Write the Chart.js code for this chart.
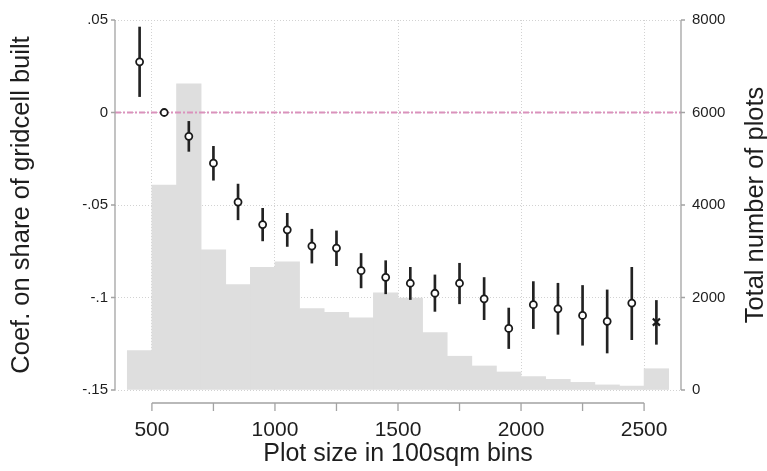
<!DOCTYPE html>
<html>
<head>
<meta charset="utf-8">
<script src="https://cdn.jsdelivr.net/npm/chart.js@4.4.0/dist/chart.umd.min.js"></script>
<style>
  html, body { margin: 0; padding: 0; background: #ffffff; }
  #wrap { width: 767px; height: 471px; }
</style>
</head>
<body>
<div id="wrap"><canvas id="c" width="767" height="471"></canvas></div>
<script>
// ---- data ----
const binCenters = [450, 550, 650, 750, 850, 950, 1050, 1150, 1250, 1350, 1450,
                    1550, 1650, 1750, 1850, 1950, 2050, 2150, 2250, 2350, 2450, 2550];
const plotCounts = [850, 4430, 6620, 3030, 2280, 2650, 2770, 1760, 1680, 1560, 2100,
                    1990, 1240, 730, 520, 390, 290, 230, 165, 110, 85, 460];
const coefValues = [0.0274, 0, -0.0129, -0.0274, -0.0484, -0.0606, -0.0634, -0.0722, -0.0733, -0.0855, -0.0891,
                    -0.0923, -0.0977, -0.0923, -0.1007, -0.1167, -0.1039, -0.1061, -0.1097, -0.1129, -0.1030, -0.1133];
const ciLow  = [0.0086, null, -0.0210, -0.0366, -0.0580, -0.0694, -0.0724, -0.0814, -0.0828, -0.0948, -0.0980,
                -0.1011, -0.1075, -0.1034, -0.1120, -0.1276, -0.1168, -0.1199, -0.1258, -0.1300, -0.1228, -0.1253];
const ciHigh = [0.0462, null, -0.0048, -0.0183, -0.0387, -0.0518, -0.0545, -0.0631, -0.0640, -0.0762, -0.0801,
                -0.0837, -0.0878, -0.0815, -0.0892, -0.1057, -0.0914, -0.0923, -0.0935, -0.0959, -0.0837, -0.1016];
const refLineX = [350, 2650];
const refLineY = [0, 0];

const xTickValues = [500, 1000, 1500, 2000, 2500];
const xTickLabels = ['500', '1000', '1500', '2000', '2500'];
const xTickMarks  = [500, 750, 1000, 1250, 1500, 1750, 2000, 2250, 2500];
const yTickValues = [-0.15, -0.1, -0.05, 0, 0.05];
const yTickLabels = ['-.15', '-.1', '-.05', '0', '.05'];
const y2TickValues = [0, 2000, 4000, 6000, 8000];
const y2TickLabels = ['0', '2000', '4000', '6000', '8000'];

const xTitle  = 'Plot size in 100sqm bins';
const yTitle  = 'Coef. on share of gridcell built';
const y2Title = 'Total number of plots';

// ---- styling ----
const FONT = '"Liberation Sans", Arial, Helvetica, sans-serif';
const TEXT = '#1e1e1e';
const AXIS = '#a3a3a3';
const GRID = '#d2d2d2';

const histData = binCenters.map((x, i) => ({ x: x, y: plotCounts[i] }));
const coefData = binCenters.map((x, i) => ({ x: x, y: coefValues[i] }));
const ciData = [];
binCenters.forEach((x, i) => {
  if (ciLow[i] !== null && ciHigh[i] !== null) ciData.push({ x: x, y: [ciLow[i], ciHigh[i]] });
});
const refData = refLineX.map((x, i) => ({ x: x, y: refLineY[i] }));

const axesPlugin = {
  id: 'stataAxes',
  afterDraw(chart) {
    const { ctx, chartArea: a, scales } = chart;
    const x = scales.x, y = scales.y, y2 = scales.y2;
    ctx.save();
    ctx.setLineDash([]);
    ctx.strokeStyle = AXIS;
    ctx.lineWidth = 1.3;
    // left axis
    ctx.beginPath();
    ctx.moveTo(a.left, y.getPixelForValue(yTickValues[yTickValues.length - 1]));
    ctx.lineTo(a.left, y.getPixelForValue(yTickValues[0]));
    yTickValues.forEach(v => {
      const py = y.getPixelForValue(v);
      ctx.moveTo(a.left - 4, py); ctx.lineTo(a.left, py);
    });
    ctx.stroke();
    // right axis
    ctx.beginPath();
    ctx.moveTo(a.right, y2.getPixelForValue(y2TickValues[y2TickValues.length - 1]));
    ctx.lineTo(a.right, y2.getPixelForValue(y2TickValues[0]));
    y2TickValues.forEach(v => {
      const py = y2.getPixelForValue(v);
      ctx.moveTo(a.right, py); ctx.lineTo(a.right + 4, py);
    });
    ctx.stroke();
    // bottom axis (offset below the plot region)
    const ay = a.bottom + 13;
    ctx.beginPath();
    ctx.moveTo(x.getPixelForValue(xTickMarks[0]), ay);
    ctx.lineTo(x.getPixelForValue(xTickMarks[xTickMarks.length - 1]), ay);
    xTickMarks.forEach(v => {
      const px = x.getPixelForValue(v);
      ctx.moveTo(px, ay); ctx.lineTo(px, ay + 8);
    });
    ctx.stroke();
    // right axis title, reading bottom to top
    ctx.fillStyle = TEXT;
    ctx.font = '25.5px ' + FONT;
    ctx.textAlign = 'center';
    ctx.textBaseline = 'alphabetic';
    ctx.translate(763, (a.top + a.bottom) / 2);
    ctx.rotate(-Math.PI / 2);
    ctx.fillText(y2Title, 0, 0);
    ctx.restore();
  }
};

new Chart(document.getElementById('c'), {
  type: 'scatter',
  data: {
    datasets: [
      {
        type: 'scatter',
        label: 'coef',
        data: coefData,
        yAxisID: 'y',
        order: 1,
        pointStyle: ctx => (ctx.dataIndex === coefValues.length - 1 ? 'crossRot' : 'circle'),
        pointRadius: ctx => (ctx.dataIndex === coefValues.length - 1 ? 5 : 3.5),
        pointBorderWidth: ctx => (ctx.dataIndex === coefValues.length - 1 ? 2.2 : 1.8),
        pointBackgroundColor: '#ffffff',
        pointBorderColor: '#1a1a1a',
        showLine: false
      },
      {
        type: 'bar',
        label: 'ci',
        data: ciData,
        yAxisID: 'y',
        order: 2,
        grouped: false,
        barThickness: 2,
        backgroundColor: '#222222',
        borderWidth: 0
      },
      {
        type: 'line',
        label: 'zero',
        data: refData,
        yAxisID: 'y',
        order: 3,
        borderColor: 'rgb(218,146,188)',
        borderWidth: 2,
        borderDash: [6, 2, 2, 2],
        pointRadius: 0,
        fill: false
      },
      {
        type: 'bar',
        label: 'plots',
        data: histData,
        yAxisID: 'y2',
        order: 4,
        grouped: false,
        barPercentage: 1,
        categoryPercentage: 1,
        backgroundColor: '#dedede',
        borderWidth: 0
      }
    ]
  },
  options: {
    responsive: false,
    animation: false,
    devicePixelRatio: 1,
    layout: { padding: { top: 18, left: 0, right: 0, bottom: 0 } },
    plugins: { legend: { display: false }, tooltip: { enabled: false } },
    scales: {
      x: {
        type: 'linear',
        min: 350, max: 2650,
        offset: false,
        afterFit: s => { s.height = 81; },
        afterBuildTicks: s => { s.ticks = xTickValues.map(v => ({ value: v })); },
        grid: { offset: false, color: GRID, lineWidth: 1, drawTicks: false },
        border: { display: false, dash: [1, 2] },
        ticks: {
          autoSkip: false, maxRotation: 0, padding: 28,
          color: TEXT, font: { family: FONT, size: 21 },
          callback: (v, i) => xTickLabels[i]
        },
        title: {
          display: true, text: xTitle, color: TEXT,
          font: { family: FONT, size: 25 },
          padding: { top: 0, bottom: 2 }
        }
      },
      y: {
        type: 'linear',
        position: 'left',
        min: -0.15, max: 0.05,
        afterFit: s => { s.width = 115; },
        afterBuildTicks: s => { s.ticks = yTickValues.map(v => ({ value: v })); },
        grid: { color: GRID, lineWidth: 1, drawTicks: false },
        border: { display: false, dash: [1, 2] },
        ticks: {
          padding: 7, color: TEXT, font: { family: FONT, size: 15 },
          callback: (v, i) => yTickLabels[i]
        },
        title: {
          display: true, text: yTitle, color: TEXT,
          font: { family: FONT, size: 25.5 },
          padding: { top: 6.6, bottom: 0 }
        }
      },
      y2: {
        type: 'linear',
        position: 'right',
        min: 0, max: 8000,
        afterFit: s => { s.width = 86; },
        afterBuildTicks: s => { s.ticks = y2TickValues.map(v => ({ value: v })); },
        grid: { drawOnChartArea: false, drawTicks: false },
        border: { display: false },
        ticks: {
          padding: 11, color: TEXT, font: { family: FONT, size: 15 },
          callback: (v, i) => y2TickLabels[i]
        },
        title: { display: false }
      }
    }
  },
  plugins: [axesPlugin]
});
</script>
</body>
</html>
